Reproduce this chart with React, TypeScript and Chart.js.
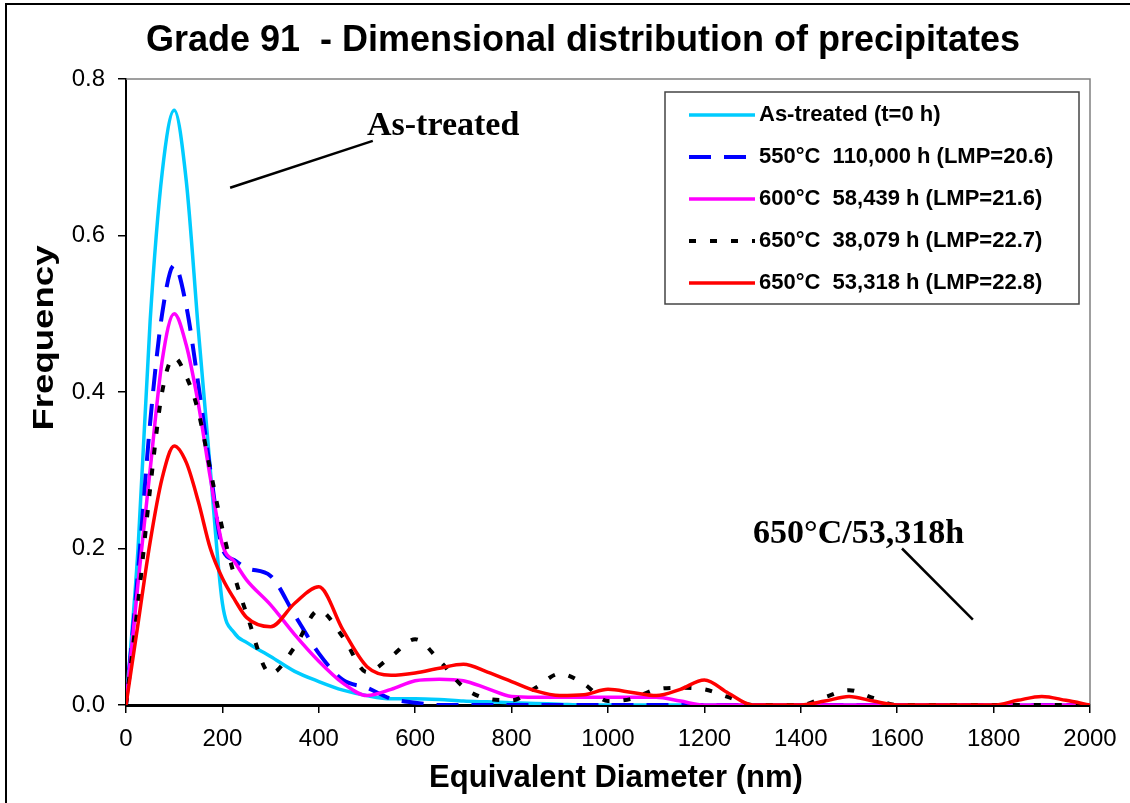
import React, { useEffect, useRef } from "react";
import { Chart, registerables } from "chart.js";

Chart.register(...registerables);

const diameters = [0, 25, 50, 75, 100, 125, 150, 175, 200, 225, 250, 300, 350, 400, 450, 500, 550, 600, 650, 700, 750, 800, 850, 900, 950, 1000, 1050, 1100, 1150, 1200, 1250, 1300, 1350, 1400, 1450, 1500, 1550, 1600, 1650, 1700, 1750, 1800, 1850, 1900, 1950, 2000];

const asTreated = [0, 0.2, 0.49, 0.68, 0.76, 0.67, 0.48, 0.3, 0.13, 0.092, 0.08, 0.062, 0.043, 0.03, 0.019, 0.012, 0.008, 0.008, 0.007, 0.005, 0.004, 0.003, 0.002, 0.001, 0, 0, 0, 0, 0, 0, 0, 0, 0, 0, 0, 0, 0, 0, 0, 0, 0, 0, 0, 0, 0, 0];

const t550 = [0, 0.17, 0.36, 0.5, 0.562, 0.51, 0.41, 0.3, 0.2, 0.185, 0.175, 0.165, 0.115, 0.066, 0.032, 0.022, 0.008, 0.003, 0, 0, 0, 0, 0, 0, 0, 0, 0, 0, 0, 0, 0, 0, 0, 0, 0, 0, 0, 0, 0, 0, 0, 0, 0, 0, 0, 0];

const t600 = [0, 0.156, 0.3, 0.44, 0.5, 0.46, 0.385, 0.29, 0.205, 0.183, 0.16, 0.128, 0.09, 0.056, 0.028, 0.012, 0.02, 0.031, 0.033, 0.031, 0.021, 0.011, 0.01, 0.01, 0.01, 0.01, 0.01, 0.01, 0.005, 0, 0, 0, 0, 0, 0, 0, 0, 0, 0, 0, 0, 0, 0, 0, 0, 0];

const t650a = [0, 0.13, 0.276, 0.4, 0.444, 0.42, 0.375, 0.3, 0.225, 0.165, 0.117, 0.04, 0.074, 0.121, 0.087, 0.042, 0.062, 0.084, 0.057, 0.023, 0.008, 0.006, 0.022, 0.04, 0.027, 0.005, 0.008, 0.02, 0.022, 0.02, 0.01, 0, 0, 0, 0.01, 0.019, 0.009, 0, 0, 0, 0, 0, 0, 0, 0, 0];

const t650b = [0, 0.104, 0.208, 0.29, 0.331, 0.31, 0.26, 0.2, 0.162, 0.135, 0.112, 0.1, 0.13, 0.151, 0.096, 0.049, 0.038, 0.041, 0.047, 0.052, 0.042, 0.03, 0.018, 0.012, 0.013, 0.02, 0.016, 0.012, 0.02, 0.032, 0.015, 0, 0, 0, 0.005, 0.011, 0.005, 0, 0, 0, 0, 0, 0.006, 0.011, 0.006, 0];

const seriesLabels = [
  "As-treated (t=0 h)",
  "550°C  110,000 h (LMP=20.6)",
  "600°C  58,439 h (LMP=21.6)",
  "650°C  38,079 h (LMP=22.7)",
  "650°C  53,318 h (LMP=22.8)",
];
const seriesColors = ["#00CCFF", "#0000FF", "#FF00FF", "#000000", "#FF0000"];
const seriesDash: number[][] = [[], [22, 13], [], [7, 14], []];
const seriesWidth = [3.5, 4, 3.5, 4, 3.5];
const seriesValues = [asTreated, t550, t600, t650a, t650b];

const xTicksMax = 2000;
const yTicksMax = 0.8;

const TITLE = "Grade 91  - Dimensional distribution of precipitates";
const X_TITLE = "Equivalent Diameter (nm)";
const Y_TITLE = "Frequency";

const SANS = '"Liberation Sans", Arial, sans-serif';
const SERIF = '"Liberation Serif", "Times New Roman", serif';

// annotations in data units
const annoAsTreated = { text: "As-treated", x: 500, y: 0.728, lx1: 216, ly1: 0.661, lx2: 512, ly2: 0.721 };
const anno650 = { text: "650°C/53,318h", x: 1301, y: 0.207, lx1: 1610, ly1: 0.2, lx2: 1757, ly2: 0.109 };

const overlay = {
  id: "overlay",
  beforeDatasetsDraw(chart: any) {
    const { ctx, chartArea } = chart;
    ctx.save();
    ctx.strokeStyle = "#808080";
    ctx.lineWidth = 1.5;
    ctx.beginPath();
    ctx.moveTo(chartArea.left, chartArea.top);
    ctx.lineTo(chartArea.right, chartArea.top);
    ctx.lineTo(chartArea.right, chartArea.bottom);
    ctx.stroke();
    ctx.restore();
  },
  afterDraw(chart: any) {
    const { ctx, scales } = chart;
    const xs = scales.x;
    const ys = scales.y;
    ctx.save();

    // outer frame
    ctx.strokeStyle = "#000";
    ctx.lineWidth = 2;
    ctx.beginPath();
    ctx.moveTo(6, 803);
    ctx.lineTo(6, 4);
    ctx.lineTo(1130, 4);
    ctx.stroke();

    // title
    ctx.fillStyle = "#000";
    ctx.font = `bold 36px ${SANS}`;
    ctx.textAlign = "center";
    ctx.textBaseline = "alphabetic";
    ctx.fillText(TITLE, 583, 51);

    // x title
    ctx.font = `bold 31px ${SANS}`;
    ctx.fillText(X_TITLE, 616, 787);

    // y title
    ctx.save();
    ctx.translate(53, 338);
    ctx.rotate(-Math.PI / 2);
    ctx.scale(1.22, 1);
    ctx.font = `bold 30px ${SANS}`;
    ctx.textAlign = "center";
    ctx.fillText(Y_TITLE, 0, 0);
    ctx.restore();

    // annotations
    ctx.font = `bold 34px ${SERIF}`;
    ctx.textAlign = "left";
    for (const a of [annoAsTreated, anno650]) {
      ctx.fillText(a.text, xs.getPixelForValue(a.x), ys.getPixelForValue(a.y));
      ctx.lineWidth = 2.5;
      ctx.beginPath();
      ctx.moveTo(xs.getPixelForValue(a.lx1), ys.getPixelForValue(a.ly1));
      ctx.lineTo(xs.getPixelForValue(a.lx2), ys.getPixelForValue(a.ly2));
      ctx.stroke();
    }

    // legend
    const lx = 665, ly = 92, lw = 414, lh = 212;
    ctx.fillStyle = "#fff";
    ctx.fillRect(lx, ly, lw, lh);
    ctx.strokeStyle = "#444";
    ctx.lineWidth = 1.5;
    ctx.strokeRect(lx, ly, lw, lh);
    ctx.font = `bold 22px ${SANS}`;
    ctx.textAlign = "left";
    seriesLabels.forEach((lab, i) => {
      const base = 121 + i * 42;
      const cy = base - 6;
      ctx.strokeStyle = seriesColors[i];
      ctx.lineWidth = seriesWidth[i];
      ctx.setLineDash(seriesDash[i]);
      ctx.beginPath();
      ctx.moveTo(689, cy);
      ctx.lineTo(755, cy);
      ctx.stroke();
      ctx.setLineDash([]);
      ctx.fillStyle = "#000";
      ctx.fillText(lab, 759, base);
    });
    ctx.restore();
  },
};

export default function App() {
  const ref = useRef<HTMLCanvasElement | null>(null);
  useEffect(() => {
    if (!ref.current) return;
    const datasets = seriesValues.map((vals, i) => ({
      label: seriesLabels[i],
      data: diameters.map((d, j) => ({ x: d, y: vals[j] })),
      borderColor: seriesColors[i],
      backgroundColor: seriesColors[i],
      borderWidth: seriesWidth[i],
      borderDash: seriesDash[i],
      borderCapStyle: "butt" as const,
      pointRadius: 0,
      fill: false,
      cubicInterpolationMode: "monotone" as const,
      order: 4 - i,
    }));
    const chart = new Chart(ref.current, {
      type: "line",
      data: { datasets },
      options: {
        animation: false,
        responsive: false,
        layout: { padding: { left: 0, top: 79, right: 40, bottom: 0 } },
        plugins: { legend: { display: false }, tooltip: { enabled: false }, title: { display: false } },
        scales: {
          x: {
            type: "linear",
            min: 0,
            max: xTicksMax,
            afterFit: (s: any) => { s.height = 98; },
            grid: { drawOnChartArea: false, tickLength: 8, color: "#000", lineWidth: 1.5 },
            border: { display: true, color: "#000", width: 3 },
            ticks: {
              stepSize: 200,
              color: "#000",
              padding: 12,
              maxRotation: 0,
              font: { family: SANS, size: 24 },
              callback: (v: any) => String(v),
            },
          },
          y: {
            type: "linear",
            min: 0,
            max: yTicksMax,
            afterFit: (s: any) => { s.width = 126; },
            grid: { drawOnChartArea: false, tickLength: 8, color: "#000", lineWidth: 1.5 },
            border: { display: true, color: "#000", width: 2 },
            ticks: {
              stepSize: 0.2,
              color: "#000",
              padding: 13,
              font: { family: SANS, size: 24 },
              callback: (v: any) => Number(v).toFixed(1),
            },
          },
        },
      },
      plugins: [overlay],
    });
    return () => chart.destroy();
  }, []);
  return (
    <div style={{ position: "absolute", left: 0, top: 0, width: 1130, height: 803, background: "#fff" }}>
      <canvas ref={ref} width={1130} height={803} />
    </div>
  );
}
